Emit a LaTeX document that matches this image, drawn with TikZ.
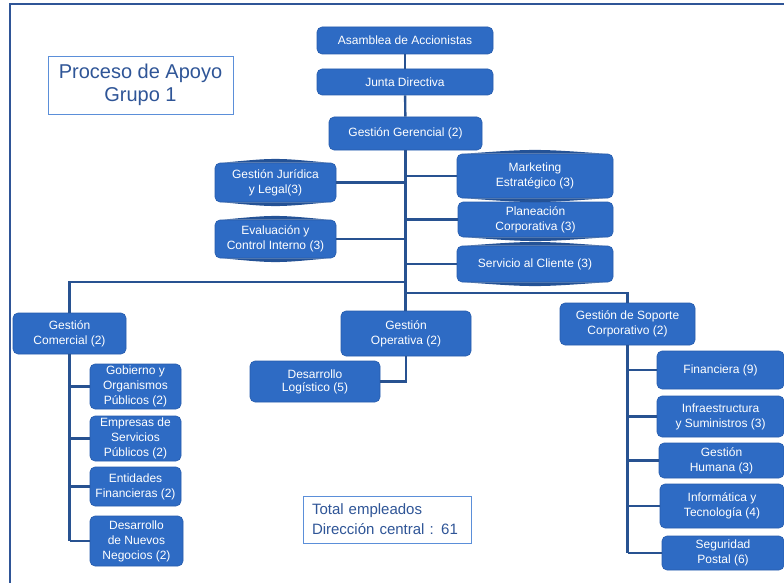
\documentclass[tikz,border=0pt]{standalone}
\usepackage{fontspec}
\setmainfont{Liberation Sans}
\usepackage{xcolor}
\usepackage{tikz}
\usetikzlibrary{positioning,calc}
\definecolor{boxblue}{RGB}{46,107,196}
\definecolor{boxedge}{RGB}{38,92,172}
\definecolor{linkblue}{RGB}{40,82,145}
\definecolor{navy}{RGB}{36,82,150}
\definecolor{titleblue}{RGB}{47,85,151}
\definecolor{noteedge}{RGB}{91,143,217}

\begin{document}
\begin{tikzpicture}[x=1pt, y=-1pt,
    unit/.style={rectangle, draw=boxedge, line width=0.6pt, fill=boxblue, rounded corners=5pt, text=white, align=center, inner sep=0pt, font=\fontsize{12}{15}\selectfont},
    note/.style={rectangle, draw=noteedge, line width=0.8pt, fill=white, text=titleblue, inner sep=0pt},
    link/.style={draw=linkblue, line width=2.4pt},
    frame/.style={draw=titleblue, line width=2.6pt},
    bulge/.style={fill=navy}
]
    \useasboundingbox (0,0) rectangle (784,583);
    \draw[frame] (10,583) -- (10,4) -- (784,4);

    % Title and total
    \node[note, minimum width=185pt, minimum height=58pt, align=center, font=\fontsize{20}{23}\selectfont] (title) at (140.5,85) {Proceso de Apoyo\\Grupo 1};
    \node[note, minimum width=168pt, minimum height=47pt, align=left, text width=150pt, font=\fontsize{15}{20}\selectfont] (total) at (387,519.5) {Total empleados\\Dirección central : 61};

    % Direction
    \node[unit, minimum width=176pt, minimum height=27pt] (asam) at (405,40.5) {Asamblea de Accionistas};
    \node[unit, minimum width=176pt, minimum height=26pt] (junta) at (405,82) {Junta Directiva};
    \node[unit, minimum width=153pt, minimum height=33pt] (ger) at (405.5,133.5) {Gestión Gerencial (2)};

    % Staff units
    \node[unit, minimum width=121pt, minimum height=39pt] (jur) at (275.5,182.5) {Gestión Jurídica\\y Legal(3)};
    \node[unit, minimum width=121pt, minimum height=38pt] (eva) at (275.5,239) {Evaluación y\\Control Interno (3)};
    \node[unit, minimum width=156pt, minimum height=44pt] (mkt) at (535,176) {Marketing\\Estratégico (3)};
    \node[unit, minimum width=155pt, minimum height=35pt] (pla) at (535.5,219.5) {Planeación\\Corporativa (3)};
    \node[unit, minimum width=156pt, minimum height=36pt] (ser) at (535,264) {Servicio al Cliente (3)};

    % Management areas
    \node[unit, minimum width=113pt, minimum height=41pt] (com) at (69.5,333.5) {Gestión\\Comercial (2)};
    \node[unit, minimum width=130pt, minimum height=45pt] (ope) at (406,333.5) {Gestión\\Operativa (2)};
    \node[unit, minimum width=135pt, minimum height=42pt] (sop) at (627.5,324) {Gestión de Soporte\\Corporativo (2)};

    % Comercial
    \node[unit, minimum width=91pt, minimum height=45pt] (gob) at (135.5,386.5) {Gobierno y\\Organismos\\Públicos (2)};
    \node[unit, minimum width=91pt, minimum height=45pt] (emp) at (135.5,438.5) {Empresas de\\Servicios\\Públicos (2)};
    \node[unit, minimum width=91pt, minimum height=39pt] (ent) at (135.5,486.5) {Entidades\\Financieras (2)};
    \node[unit, minimum width=93pt, minimum height=50pt] (des) at (136.5,541) {Desarrollo\\de Nuevos\\Negocios (2)};

    % Operativa
    \node[unit, minimum width=130pt, minimum height=41pt, font=\fontsize{12}{13}\selectfont] (log) at (315,381.5) {Desarrollo\\Logístico (5)};

    % Soporte
    \node[unit, minimum width=127pt, minimum height=38pt] (fin) at (720.5,370) {Financiera (9)};
    \node[unit, minimum width=127pt, minimum height=41pt] (inf) at (720.5,416.5) {Infraestructura\\y Suministros (3)};
    \node[unit, minimum width=125pt, minimum height=35pt] (hum) at (721.5,460.5) {Gestión\\Humana (3)};
    \node[unit, minimum width=124pt, minimum height=44pt] (itc) at (722,506) {Informática y\\Tecnología (4)};
    \node[unit, minimum width=122pt, minimum height=34pt] (seg) at (723,553) {Seguridad\\Postal (6)};

    % Bulged edges
    \foreach \n in {jur,eva,mkt,ser} {
        \fill[bulge] ([xshift=8pt]\n.north west) .. controls ([yshift=5pt]\n.north) .. ([xshift=-8pt]\n.north east) -- cycle;
        \fill[bulge] ([xshift=8pt]\n.south west) .. controls ([yshift=-5pt]\n.south) .. ([xshift=-8pt]\n.south east) -- cycle;
    }
    \fill[bulge] ([xshift=8pt]pla.south west) .. controls ([yshift=-5pt]pla.south) .. ([xshift=-8pt]pla.south east) -- cycle;

    % Connectors
    \coordinate (busl) at (405,282);
    \coordinate (busr) at (405,293);
    \draw[link] (asam) -- (junta);
    \draw[link] (junta) -- (ger);
    \draw[link] (ger.south) -- (ger.south |- ope.north);
    \foreach \n in {jur,eva,mkt,pla,ser}
        \draw[link] (\n) -- (\n -| ger.south);
    \draw[link] (busl) -| (com.north);
    \draw[link] (busr) -| (sop.north);
    \draw[link] (com.south) -- (com.south |- des.west);
    \foreach \n in {gob,emp,ent,des}
        \draw[link] (\n.west) -- (\n.west -| com.south);
    \draw[link] (log.east) -| (ope.south);
    \draw[link] (sop.south) -- (sop.south |- seg.west);
    \foreach \n in {fin,inf,hum,itc,seg}
        \draw[link] (\n.west) -- (\n.west -| sop.south);
\end{tikzpicture}
\end{document}
